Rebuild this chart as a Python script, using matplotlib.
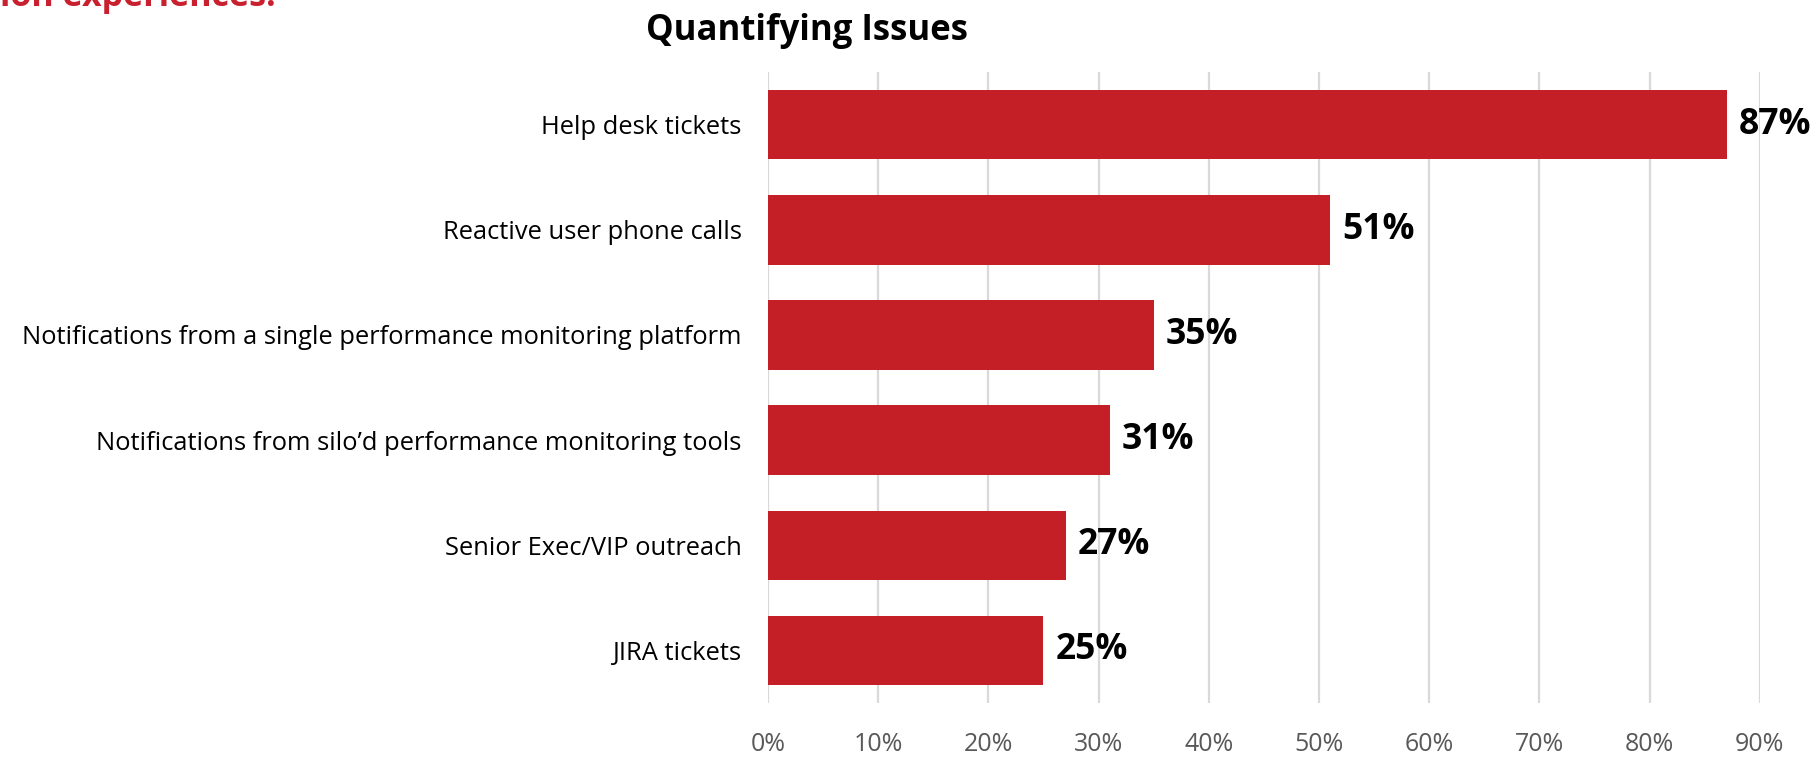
import matplotlib
matplotlib.use("Agg")
import matplotlib.pyplot as plt
from matplotlib.ticker import PercentFormatter

plt.rcParams['font.family'] = ['Open Sans', 'DejaVu Sans']

# Share of respondents per way of learning about issues
categories = [
    "Help desk tickets",
    "Reactive user phone calls",
    "Notifications from a single performance monitoring platform",
    "Notifications from silo\u2019d performance monitoring tools",
    "Senior Exec/VIP outreach",
    "JIRA tickets",
]
values = [87, 51, 35, 31, 27, 25]
x_ticks = [0, 10, 20, 30, 40, 50, 60, 70, 80, 90]

bar_color = "#C41F27"

fig = plt.figure(figsize=(18.16, 7.59), dpi=100)
ax = fig.add_axes([0.4229, 0.0738, 0.969 - 0.4229, 0.905 - 0.0738])

y = list(range(len(categories)))
ax.barh(y, values, height=0.66, color=bar_color, zorder=3)

for yi, v in zip(y, values):
    ax.text(v + 1.1, yi, f"{v}%", va="center", ha="left",
            fontsize=25.5, fontweight="bold", color="black", clip_on=False)

ax.set_ylim(len(categories) - 0.5, -0.5)
ax.set_xlim(0, 90)
ax.set_xticks(x_ticks)
ax.xaxis.set_major_formatter(PercentFormatter(decimals=0))
ax.set_yticks(y)
ax.set_yticklabels(categories, fontsize=18.4)

ax.grid(axis="x", color="#D9D9D9", linewidth=1.6, zorder=0)
for s in ax.spines.values():
    s.set_visible(False)
ax.tick_params(axis="y", length=0, pad=19)
ax.tick_params(axis="x", length=0, pad=21, labelsize=18, labelcolor="#595959")

fig.text(807 / 1816, 1 - 31 / 759, "Quantifying Issues", ha="center", va="center",
         fontsize=25, fontweight="bold")
# heading from the slide above, mostly cut off by the top edge
fig.text(0.0, 1 - 6 / 759, "ion experiences.", ha="left", va="baseline",
         fontsize=24.5, fontweight="bold", color="#C8202F")

fig.savefig("out.png", dpi=100)
